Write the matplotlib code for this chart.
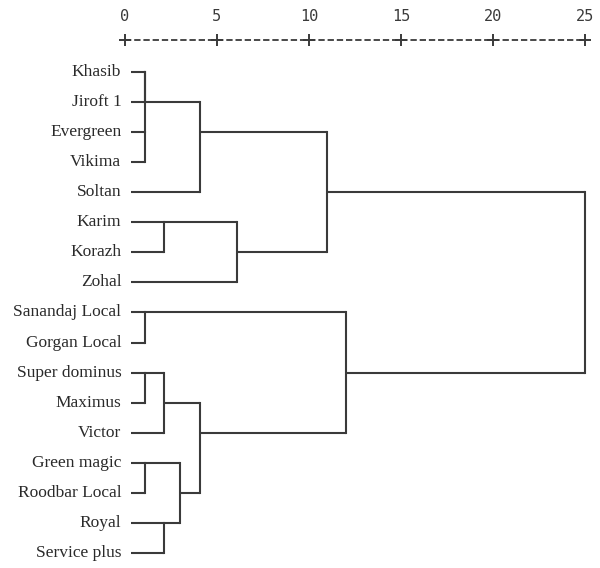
import matplotlib.pyplot as plt

# leaves, top to bottom
labels = ['Khasib', 'Jiroft 1', 'Evergreen', 'Vikima', 'Soltan', 'Karim', 'Korazh',
          'Zohal', 'Sanandaj Local', 'Gorgan Local', 'Super dominus', 'Maximus',
          'Victor', 'Green magic', 'Roodbar Local', 'Royal', 'Service plus']

# merges: (child a, child b, rescaled distance); new clusters numbered from len(labels)
merge_a = [0, 2, 17, 8, 10, 13, 5, 21, 15, 22, 19, 24, 23, 27, 20, 30]
merge_b = [1, 3, 18, 9, 11, 14, 6, 12, 16, 25, 4, 26, 7, 29, 28, 31]
merge_dist = [1.1, 1.1, 1.1, 1.1, 1.1, 1.1, 2.1, 2.1, 2.1, 3.0, 4.1, 4.1, 6.1, 11.0, 12.0, 25.0]

ticks = [0, 5, 10, 15, 20, 25]

col = '#3a3a3a'
fig = plt.figure(figsize=(6, 5.68), dpi=100)
ax = fig.add_axes([0, 0, 1, 1])
ax.set_xlim(-6.79, 25.82)
ax.set_ylim(16.5, -2.395)
ax.axis('off')

# nodes: (row, x) ; leaves start just right of labels
nodes = [(i, 0.35) for i in range(len(labels))]
for a, b, d in zip(merge_a, merge_b, merge_dist):
    ra, xa = nodes[a]
    rb, xb = nodes[b]
    ax.plot([xa, d], [ra, ra], color=col, lw=1.5, solid_capstyle='butt')
    ax.plot([xb, d], [rb, rb], color=col, lw=1.5, solid_capstyle='butt')
    ax.plot([d, d], [ra, rb], color=col, lw=1.5, solid_capstyle='projecting')
    nodes.append(((ra + rb) // 2, d))

for i, lab in enumerate(labels):
    ax.text(-0.2, i, lab, ha='right', va='center', fontsize=12.5,
            family='Liberation Serif', color='#2a2a2a')

# top scale
ax.plot([0, 25], [-1.06, -1.06], color=col, lw=1.3, dashes=(3.5, 1.6))
ax.plot(ticks, [-1.06] * len(ticks), '+', color=col, ms=8, mew=1.4)
for t in ticks:
    ax.text(t, -1.85, str(t), ha='center', va='center', fontsize=11,
            family='DejaVu Sans Mono', color=col)

fig.savefig('out.png', dpi=100)
